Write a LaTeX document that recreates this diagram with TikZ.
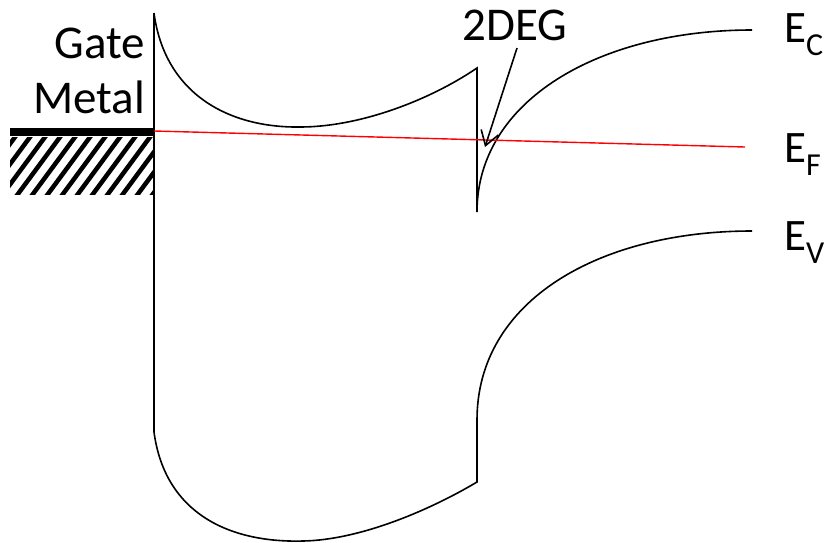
\documentclass[tikz,border=0pt]{standalone}
\usepackage{fontspec}
\setmainfont{Carlito}
\usetikzlibrary{arrows.meta}
\tikzset{
  band/.style={line width=1.6pt, black},
  fermi/.style={line width=1.4pt, red},
  lbl/.style={inner sep=0pt, font=\fontsize{47}{54}\selectfont},
  elbl/.style={inner sep=0pt, anchor=base west, font=\fontsize{45}{50}\selectfont},
}
\newcommand{\lowsub}[1]{\raisebox{-13pt}{\fontsize{32}{32}\selectfont #1}}
\begin{document}
\begin{tikzpicture}[x=1pt,y=-1pt]
\useasboundingbox (0,0) rectangle (827,542);
% gate metal
\fill (10,128) rectangle (154,136);
\begin{scope}
  \clip (10,137) rectangle (154,194);
  \foreach \i in {-60,-45,...,165}{
    \draw[line width=4.5pt] (\i,198) -- (\i+48,133);
  }
\end{scope}
% conduction band
\draw[band] (154,13) -- (154,432);
\draw[band] (154,13) .. controls (165,95) and (230,128) .. (300,127)
  .. controls (360,127) and (430,100) .. (477,68) -- (477,212)
  .. controls (477,100) and (600,30) .. (752,30);
% valence band
\draw[band] (154,432) .. controls (165,514) and (230,543) .. (303,541)
  .. controls (360,540) and (430,510) .. (477,482) -- (477,420)
  .. controls (477,300) and (600,231) .. (752,231);
% Fermi level
\draw[fermi] (154,131) -- (745,147);
% labels
\node[lbl, anchor=base east] (gate) at (145,58) {Gate};
\node[lbl, anchor=base east] (metal) at (145,113) {Metal};
\node[lbl, anchor=base] (deg) at (515,40) {2DEG};
\coordinate (tip) at (485,147);
\draw[line width=1.6pt, -{Straight Barb[length=14pt,width=18pt]}] (517,48) -- (tip);
\node[elbl] (ec) at (784,42) {E\lowsub{C}};
\node[elbl] (ef) at (784,162) {E\lowsub{F}};
\node[elbl] (ev) at (784,250) {E\lowsub{V}};
\end{tikzpicture}
\end{document}
